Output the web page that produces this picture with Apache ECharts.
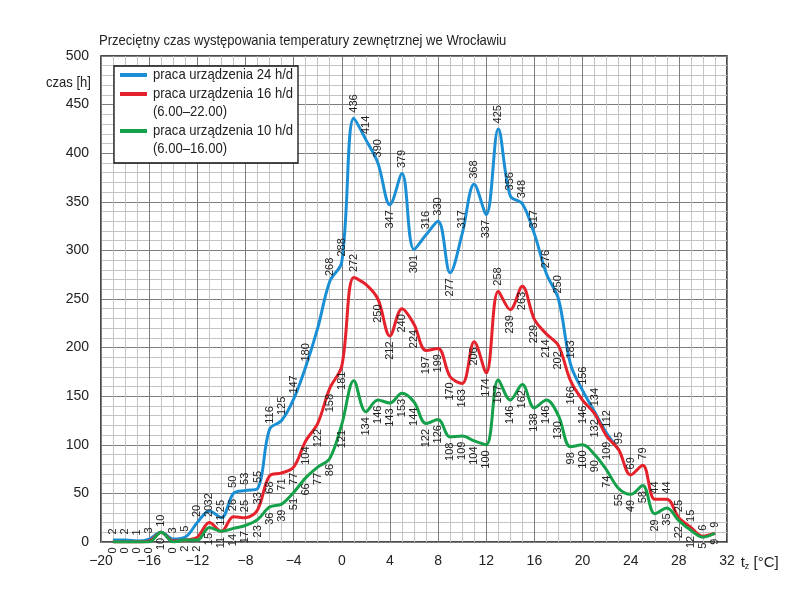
<!DOCTYPE html>
<html>
<head>
<meta charset="utf-8">
<script src="https://cdn.jsdelivr.net/npm/echarts@6/dist/echarts.min.js"></script>
<style>
    html, body { margin: 0; background: #fff; }
    #chart { width: 805px; height: 595px; }
</style>
</head>
<body>
<div id="chart"></div>
<script>
    var temps = [-19, -18, -17, -16, -15, -14, -13, -12, -11, -10, -9, -8, -7, -6, -5, -4, -3, -2, -1, 0,
        1, 2, 3, 4, 5, 6, 7, 8, 9, 10, 11, 12, 13, 14, 15, 16, 17, 18, 19, 20,
        21, 22, 23, 24, 25, 26, 27, 28, 29, 30, 31];
    // praca 24 h/d (do 23°C, dalej pokrywa się z 16 h/d)
    var blue = [2, 2, 1, 3, 10, 3, 5, 20, 32, 25, 50, 53, 55, 116, 125, 147, 180, 220, 268, 288,
        436, 414, 390, 347, 379, 301, 316, 330, 277, 317, 368, 337, 425, 356, 348, 317, 276, 250, 183, 156,
        134, 112, 95];
    // praca 16 h/d
    var red = [0, 0, 0, 1, 10, 1, 2, 5, 20, 11, 26, 25, 33, 68, 71, 77, 104, 122, 158, 181,
        272, 265, 250, 212, 240, 224, 197, 199, 170, 163, 206, 174, 258, 239, 263, 229, 214, 202, 166, 146,
        132, 109, 95, 69, 79, 44, 44, 25, 15, 6, 9];
    // praca 10 h/d
    var green = [0, 0, 0, 0, 10, 0, 2, 2, 15, 11, 14, 17, 23, 36, 39, 51, 66, 77, 86, 121,
        166, 134, 146, 143, 153, 144, 122, 126, 108, 109, 104, 100, 167, 146, 162, 138, 146, 130, 98, 100,
        90, 74, 55, 49, 58, 29, 35, 22, 12, 5, 9];

    var xTicks = [-20, -16, -12, -8, -4, 0, 4, 8, 12, 16, 20, 24, 28, 32];
    var yTicks = [0, 50, 100, 150, 200, 250, 300, 350, 400, 450, 500];

    // gdzie opis ma byc pod / nad linia, albo go brak
    var blueBelow = [4, 6, 9, 12];
    var blueHidden = [-2];
    var redAbove = [-11, -10, -9, -8, -7, 1, 13, 24, 25, 26, 27, 28, 29, 30, 31];
    var redHidden = [-19, -18, -17, -16, -15, -14, -13, -12, 2, 23];
    var greenHidden = [1];

    var FONT = "'Liberation Sans Narrow', 'Arial Narrow', 'Liberation Sans', sans-serif";
    var C_BLUE = '#1b8fd5';
    var C_RED = '#e5222b';
    var C_GREEN = '#15a04a';
    var NARROW = 0.87; // zwężenie tekstu (brak kroju Narrow)

    var labelTop = {show: true, position: 'top', rotate: 90, align: 'left', verticalAlign: 'middle', distance: 5};
    var labelBottom = {show: true, position: 'bottom', rotate: 90, align: 'right', verticalAlign: 'middle', distance: 5};

    function buildData(vals, defTop, flip, hidden) {
        return vals.map(function (v, i) {
            var t = temps[i];
            var top = flip.indexOf(t) >= 0 ? !defTop : defTop;
            var item = {value: [t, v], label: top ? labelTop : labelBottom};
            if (hidden.indexOf(t) >= 0) {
                item.label = {show: false};
            }
            return item;
        });
    }

    function lineSeries(name, color, data, z) {
        return {
            name: name,
            type: 'line',
            smooth: 0.35,
            symbol: 'circle',
            symbolSize: 1,
            showAllSymbol: true,
            z: z,
            lineStyle: {color: color, width: 3},
            itemStyle: {color: color},
            label: {
                show: true,
                fontFamily: FONT,
                fontSize: 11,
                color: '#222',
                formatter: function (p) { return p.value[1]; }
            },
            data: data
        };
    }

    function txt(s, x, y, opts) {
        var el = {
            type: 'text', x: x, y: y, z: 101, scaleX: NARROW,
            style: {text: s, verticalAlign: 'middle', fontFamily: FONT, fontSize: 15, fill: '#222'}
        };
        if (opts) {
            for (var k in opts) el.style[k] = opts[k];
        }
        return el;
    }

    var chart = echarts.init(document.getElementById('chart'));
    var option = {
        animation: false,
        backgroundColor: '#fff',
        grid: {
            left: 101, right: 78, top: 56, bottom: 53,
            show: true,
            borderColor: '#111',
            borderWidth: 1.5
        },
        xAxis: {
            type: 'value',
            min: -20,
            max: 32,
            interval: 1,
            name: '{t|t}{s|z}{t| [°C]}',
            nameLocation: 'end',
            nameGap: 10,
            nameTextStyle: {
                verticalAlign: 'top',
                align: 'left',
                padding: [12, 0, 0, 0],
                rich: {
                    t: {fontFamily: FONT, fontSize: 15, color: '#222'},
                    s: {fontFamily: FONT, fontSize: 9, color: '#222', padding: [8, 0, 0, 0]}
                }
            },
            axisLine: {show: false},
            axisTick: {show: false},
            axisLabel: {
                margin: 12,
                fontFamily: FONT,
                fontSize: 14,
                color: '#222',
                showMinLabel: true,
                showMaxLabel: true,
                formatter: function (v) {
                    if (xTicks.indexOf(v) < 0) return '';
                    return v < 0 ? '\u2212' + Math.abs(v) : String(v);
                }
            },
            splitLine: {
                show: true,
                lineStyle: {color: ['#7d7d7d', '#c4c4c4', '#c4c4c4', '#c4c4c4'], width: 1}
            }
        },
        yAxis: {
            type: 'value',
            min: 0,
            max: 500,
            interval: 10,
            axisLine: {show: false},
            axisTick: {show: false},
            axisLabel: {
                margin: 12,
                fontFamily: FONT,
                fontSize: 14,
                color: '#222',
                formatter: function (v) {
                    return yTicks.indexOf(v) >= 0 ? String(v) : '';
                }
            },
            splitLine: {
                show: true,
                lineStyle: {color: ['#7d7d7d', '#c4c4c4', '#c4c4c4', '#c4c4c4', '#c4c4c4'], width: 1}
            }
        },
        graphic: [
            txt('Przeciętny czas występowania temperatury zewnętrznej we Wrocławiu', 99, 41),
            txt('czas [h]', 91, 83, {align: 'right'}),
            {type: 'rect', shape: {x: 114, y: 66, width: 184, height: 97}, z: 100,
                style: {fill: '#fff', stroke: '#111', lineWidth: 1.3}},
            {type: 'line', shape: {x1: 120, y1: 75, x2: 147, y2: 75}, z: 101,
                style: {stroke: C_BLUE, lineWidth: 4}},
            {type: 'line', shape: {x1: 120, y1: 94, x2: 147, y2: 94}, z: 101,
                style: {stroke: C_RED, lineWidth: 4}},
            {type: 'line', shape: {x1: 120, y1: 131, x2: 147, y2: 131}, z: 101,
                style: {stroke: C_GREEN, lineWidth: 4}},
            txt('praca urządzenia 24 h/d', 153, 75),
            txt('praca urządzenia 16 h/d', 153, 94),
            txt('(6.00–22.00)', 153, 112),
            txt('praca urządzenia 10 h/d', 153, 131),
            txt('(6.00–16.00)', 153, 149)
        ],
        series: [
            lineSeries('praca urządzenia 24 h/d', C_BLUE, buildData(blue, true, blueBelow, blueHidden), 2),
            lineSeries('praca urządzenia 16 h/d (6.00–22.00)', C_RED, buildData(red, false, redAbove, redHidden), 3),
            lineSeries('praca urządzenia 10 h/d (6.00–16.00)', C_GREEN, buildData(green, false, [], greenHidden), 4)
        ]
    };
    chart.setOption(option);
</script>
</body>
</html>
